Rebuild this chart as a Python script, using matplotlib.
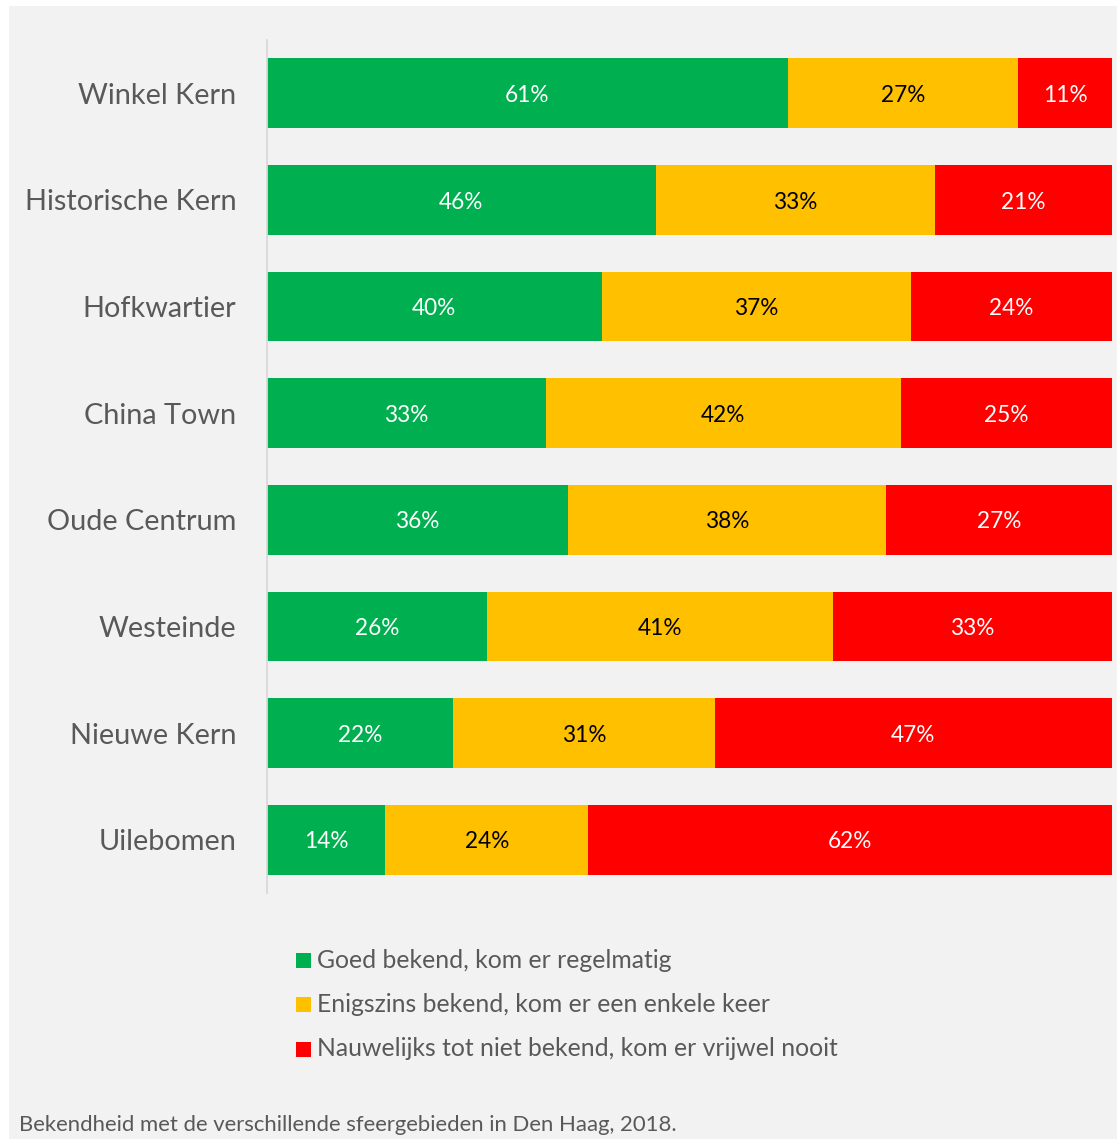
import matplotlib
matplotlib.use("Agg")
import matplotlib.pyplot as plt
from matplotlib.patches import Rectangle
import numpy as np

plt.rcParams['font.family'] = ['Lato', 'DejaVu Sans']

areas = ["Winkel Kern", "Historische Kern", "Hofkwartier", "China Town",
         "Oude Centrum", "Westeinde", "Nieuwe Kern", "Uilebomen"]
goed = [61, 46, 40, 33, 36, 26, 22, 14]
enigszins = [27, 33, 37, 42, 38, 41, 31, 24]
nauwelijks = [11, 21, 24, 25, 27, 33, 47, 62]

series_names = ["Goed bekend, kom er regelmatig",
                "Enigszins bekend, kom er een enkele keer",
                "Nauwelijks tot niet bekend, kom er vrijwel nooit"]
colors = ["#00b050", "#ffc000", "#ff0000"]
label_colors = ["white", "black", "white"]
caption = "Bekendheid met de verschillende sfeergebieden in Den Haag, 2018."

W, H = 1117, 1139
fig = plt.figure(figsize=(W / 100, H / 100), dpi=100, facecolor="white")
fig.patches.append(Rectangle((9 / W, 0), 1 - 9 / W, 1 - 6 / H,
                             transform=fig.transFigure, facecolor="#f2f2f2",
                             edgecolor="none", zorder=-10))

ax = fig.add_axes([267 / W, 1 - 893 / H, (1112 - 267) / W, (893 - 40) / H])
ax.set_facecolor("none")

# each row is shown as a share of its own total (100% stacked bars)
data = np.array([goed, enigszins, nauwelijks], dtype=float)
totals = data.sum(axis=0)
shares = data / totals * 100
y = np.arange(len(areas))
left = np.zeros(len(areas))
for i in range(3):
    ax.barh(y, shares[i], left=left, height=0.655, color=colors[i],
            edgecolor="none")
    for j in range(len(areas)):
        ax.text(left[j] + shares[i][j] / 2, y[j] + 0.02, f"{data[i][j]:.0f}%",
                ha="center", va="center", fontsize=16.3, color=label_colors[i])
    left += shares[i]

ax.set_xlim(0, 100)
ax.set_ylim(len(areas) - 0.5, -0.5)
ax.set_yticks(y)
ax.set_yticklabels(areas, fontsize=20.8, color="#595959")
ax.tick_params(axis="y", length=0, pad=22)
ax.set_xticks([])
for s in ["top", "right", "bottom"]:
    ax.spines[s].set_visible(False)
ax.spines["left"].set_color("#d9d9d9")
ax.spines["left"].set_linewidth(1.3)

# legend drawn as stacked entries below the plot
for k, (name, c) in enumerate(zip(series_names, colors)):
    yy = 1 - (960 + 44.5 * k) / H
    fig.patches.append(Rectangle((296 / W, yy - 7.5 / H), 15 / W, 15 / H,
                                 transform=fig.transFigure, facecolor=c,
                                 edgecolor="none"))
    fig.text(317 / W, yy, name, fontsize=17.8, color="#595959",
             ha="left", va="center")

fig.text(19 / W, 1 - 1125 / H, caption, fontsize=15.9, color="#595959",
         ha="left", va="center")

fig.savefig("out.png", dpi=100, facecolor=fig.get_facecolor())
